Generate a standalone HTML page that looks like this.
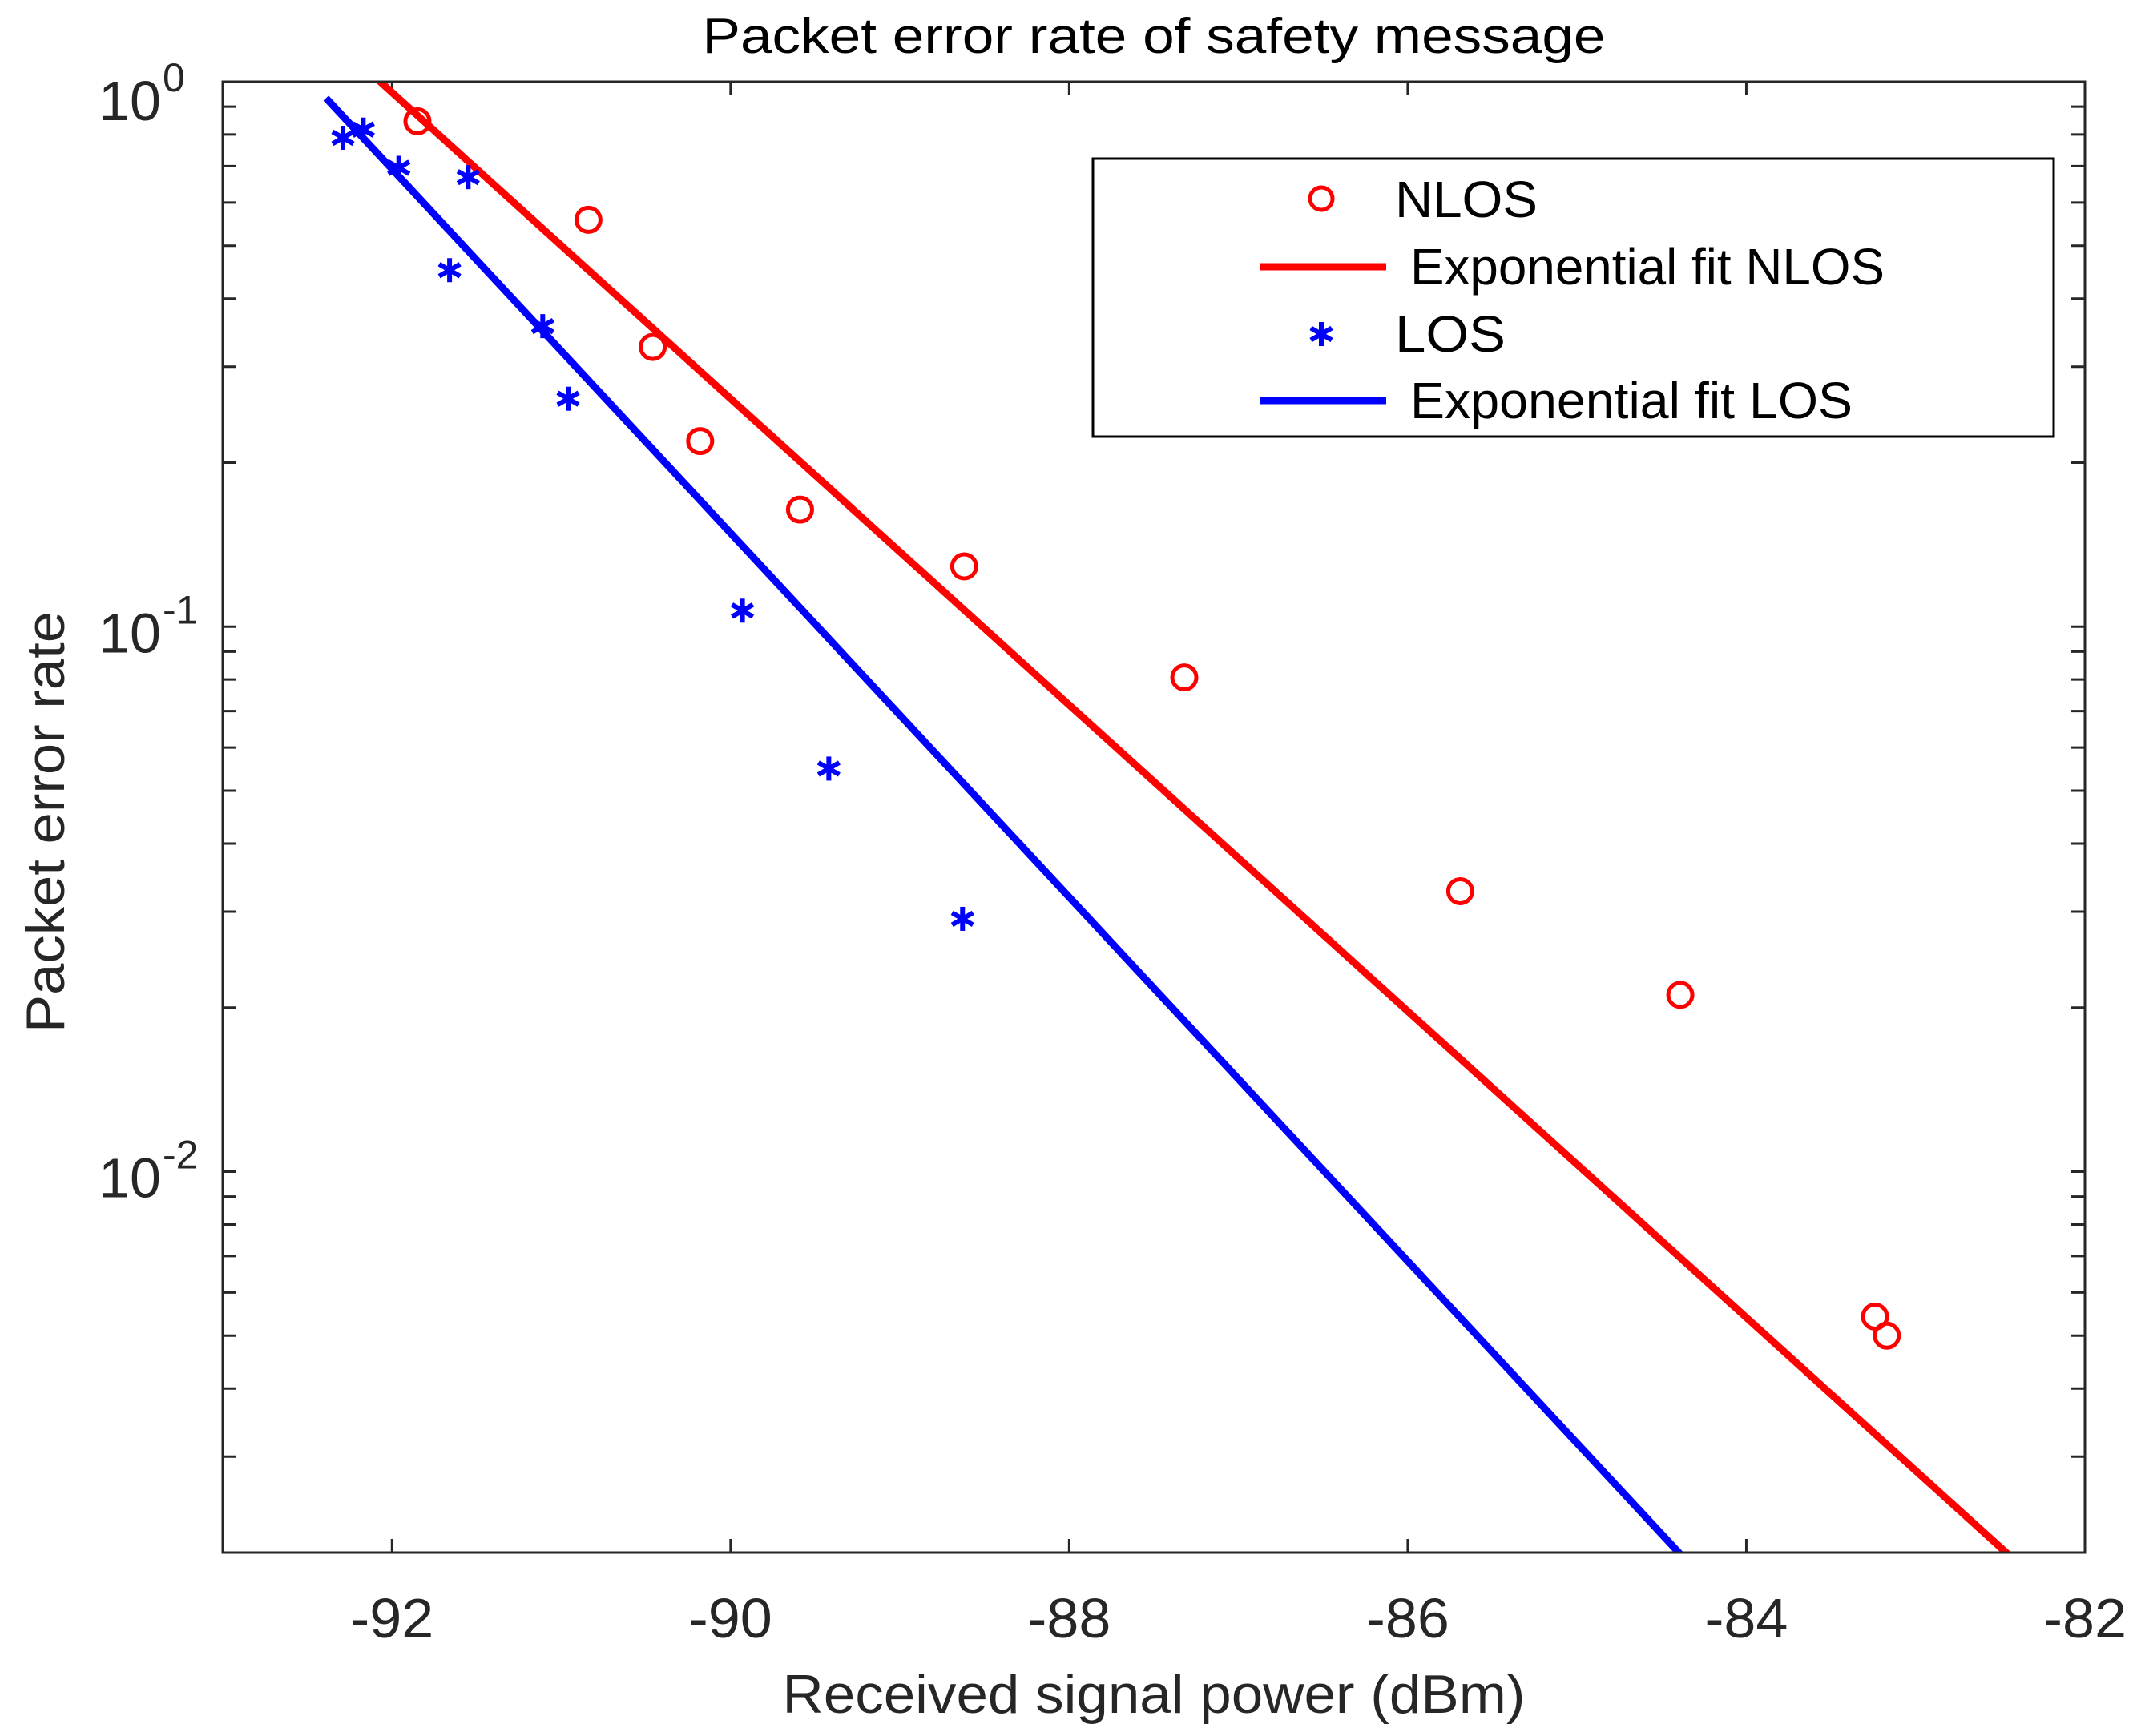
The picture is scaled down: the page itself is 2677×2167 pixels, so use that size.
<!DOCTYPE html>
<html><head><meta charset="utf-8"><style>
html,body{margin:0;padding:0;background:#fff;}
svg{display:block;font-family:"Liberation Sans",Arial,sans-serif;}
</style></head><body>
<svg id="chart" width="2677" height="2167" viewBox="0 0 2677 2167" xmlns="http://www.w3.org/2000/svg">
<rect x="0" y="0" width="2677" height="2167" fill="#fff"/>
<defs><clipPath id="plotclip"><rect x="278" y="102" width="2324" height="1836"/></clipPath></defs>
<rect x="278" y="102" width="2324" height="1836" fill="#fff"/>
<g id="ticks"></g>
<g id="lines" clip-path="url(#plotclip)"></g>
<g id="marks"></g>
<rect x="278" y="102" width="2324" height="1836" fill="none" stroke="#262626" stroke-width="3"/>
<g id="labels"></g>
<text x="1440" y="66" font-size="62" text-anchor="middle" textLength="1127" lengthAdjust="spacingAndGlyphs" fill="#000">Packet error rate of safety message</text>
<text x="1440" y="2138" font-size="68" text-anchor="middle" textLength="927" lengthAdjust="spacingAndGlyphs" fill="#262626">Received signal power (dBm)</text>
<text transform="translate(80,1026) rotate(-90)" font-size="68" text-anchor="middle" textLength="526" lengthAdjust="spacingAndGlyphs" fill="#262626">Packet error rate</text>
<g>
<rect x="1364" y="198" width="1199" height="347" fill="#fff" stroke="#000" stroke-width="3"/>
<circle cx="1649" cy="248" r="14" fill="none" stroke="#ff0000" stroke-width="5"/>
<text x="1741" y="271" font-size="64" textLength="178" lengthAdjust="spacingAndGlyphs">NLOS</text>
<line x1="1572" y1="333" x2="1730" y2="333" stroke="#ff0000" stroke-width="9"/>
<text x="1760" y="355" font-size="64" textLength="592" lengthAdjust="spacingAndGlyphs">Exponential fit NLOS</text>
<g id="legstar"></g>
<text x="1741" y="439" font-size="64" textLength="138" lengthAdjust="spacingAndGlyphs">LOS</text>
<line x1="1572" y1="500" x2="1730" y2="500" stroke="#0000ff" stroke-width="9"/>
<text x="1760" y="522" font-size="64" textLength="552" lengthAdjust="spacingAndGlyphs">Exponential fit LOS</text>
</g>
</svg>
<script>
const nlosX = [-91.85,-90.84,-90.46,-90.18,-89.59,-88.62,-87.32,-85.69,-84.39,-83.24,-83.17];
const nlosY = [0.846,0.558,0.326,0.219,0.164,0.129,0.0807,0.0327,0.0211,0.00542,0.0050];
const losX = [-92.29,-92.17,-91.96,-91.55,-91.66,-91.11,-90.96,-89.93,-89.42,-88.63];
const losY = [0.789,0.817,0.695,0.668,0.451,0.356,0.262,0.107,0.0549,0.0291];
// fit: log10(y) = c0 + slope*(x - x0)
const nlosFit = [-92.07, 0.0, -0.281];
const losFit = [-92.39, -0.030, -0.334];
const fitRangeNlos = [-92.4, -82.3];
const fitRangeLos = [-92.39, -84.3];
const xTicks = [-92,-90,-88,-86,-84,-82];
const xTickLabels = ["-92","-90","-88","-86","-84","-82"];
const yDecades = [0,-1,-2];
const yDecadeLabels = ["0","-1","-2"];
const xDomain = [-93,-82];
const yDomain = [0.002,1];

const NS="http://www.w3.org/2000/svg";
const L=278,R=2602,T=102,B=1938;
function sx(v){return L+(v-xDomain[0])/(xDomain[1]-xDomain[0])*(R-L);}
function sy(v){const a=Math.log10(yDomain[0]),b=Math.log10(yDomain[1]);return B-(Math.log10(v)-a)/(b-a)*(B-T);}
function mk(tag,attrs,parent){const e=document.createElementNS(NS,tag);for(const k in attrs)e.setAttribute(k,attrs[k]);parent.appendChild(e);return e;}
const ticks=document.getElementById('ticks'),labels=document.getElementById('labels'),lines=document.getElementById('lines'),marks=document.getElementById('marks');
const tl=17;
xTicks.forEach((v,i)=>{
  const x=sx(v);
  let t=mk('line',{x1:x,y1:B,x2:x,y2:B-tl,stroke:'#262626','stroke-width':3},ticks);
  
  
  t=mk('line',{x1:x,y1:T,x2:x,y2:T+tl,stroke:'#262626','stroke-width':3},ticks);
  
  
  const tx=mk('text',{x:x,y:2044,'font-size':70,'text-anchor':'middle',fill:'#262626',textLength:104,lengthAdjust:'spacingAndGlyphs'},labels);
  tx.textContent=xTickLabels[i];
  
  
});
for(let d=0;d>=-3;d--){
  for(let m=1;m<=9;m++){
    const v=m*Math.pow(10,d);
    if(v<yDomain[0]-1e-12||v>yDomain[1]+1e-12)continue;
    const y=sy(v);
    let t=mk('line',{x1:L,y1:y,x2:L+tl,y2:y,stroke:'#262626','stroke-width':3},ticks);
    
    
    t=mk('line',{x1:R,y1:y,x2:R-tl,y2:y,stroke:'#262626','stroke-width':3},ticks);
    
    
  }
}
yDecades.forEach((d,i)=>{
  const y=sy(Math.pow(10,d));
  const base=(d===0)?y+48:y+32;
  const g=mk('text',{x:201,y:base,'font-size':70,'text-anchor':'end',fill:'#262626',textLength:78,lengthAdjust:'spacingAndGlyphs'},labels);
  g.textContent='10';
  
  
  const e=mk('text',{x:203,y:base-36,'font-size':50,'text-anchor':'start',fill:'#262626'},labels);
  e.textContent=yDecadeLabels[i];
  
  
});
function fitLine(fit,range,color,name){
  const y=x=>Math.pow(10,fit[1]+fit[2]*(x-fit[0]));
  const l=mk('line',{x1:sx(range[0]),y1:sy(y(range[0])),x2:sx(range[1]),y2:sy(y(range[1])),stroke:color,'stroke-width':9},lines);
  
  
}
fitLine(nlosFit,fitRangeNlos,'#ff0000','nlos-fit-line');
fitLine(losFit,fitRangeLos,'#0000ff','los-fit-line');
nlosX.forEach((x,i)=>{
  const c=mk('circle',{cx:sx(x),cy:sy(nlosY[i]),r:15,fill:'none',stroke:'#ff0000','stroke-width':5},marks);
  
  
});
function star(cx,cy,r,parent,name){
  const g=mk('g',{stroke:'#0000ff','stroke-width':6},parent);
  
  
  mk('line',{x1:cx,y1:cy-r,x2:cx,y2:cy+r},g);
  mk('line',{x1:cx-r*0.87,y1:cy-r*0.5,x2:cx+r*0.87,y2:cy+r*0.5},g);
  mk('line',{x1:cx-r*0.87,y1:cy+r*0.5,x2:cx+r*0.87,y2:cy-r*0.5},g);
}
losX.forEach((x,i)=>{star(sx(x),sy(losY[i]),15,marks,'los-point');});
star(1649,417,15,document.getElementById('legstar'),'legend-star');
</script>
</body></html>
